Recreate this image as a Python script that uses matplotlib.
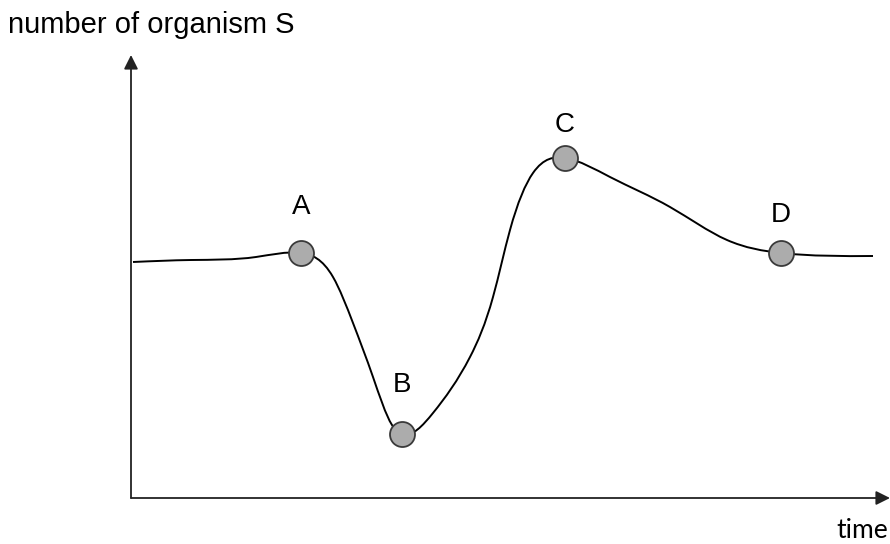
"""
plot.py
Sketch of a population curve for organism S over time, with four
marked stages A-D (steady, crash, overshoot, back to steady).
"""

import numpy as np
import matplotlib
matplotlib.use("Agg")
import matplotlib.pyplot as plt
from matplotlib.path import Path
from matplotlib.patches import PathPatch

# curve (arbitrary units: time, number of organism S)
time = [0.2, 6.0, 12.5, 17.0, 20.2, 22.2, 24.2, 26.1, 27.1, 30.2, 33.9, 36.2,
        37.9, 40.2, 43.4, 47.9, 53.9, 59.6, 65.0, 74.2]
count = [23.6, 23.8, 24.1, 24.5, 22.1, 17.5, 12.1, 7.3, 6.4, 8.5, 14.1, 20.1,
         26.8, 32.5, 34.0, 32.1, 29.1, 25.8, 24.5, 24.2]

# marked stages
stage_labels = ["A", "B", "C", "D"]
stage_time = [17.0, 27.1, 43.4, 65.0]
stage_count = [24.5, 6.4, 34.0, 24.5]

X_MAX = 75.9
Y_MAX = 44.3
LABEL_FONT = ["Liberation Sans", "DejaVu Sans"]


def smooth_path(xs, ys):
    """Natural cubic spline through the read points, handed to matplotlib
    as cubic Bezier segments so the drawing itself stays a single Path."""
    x = np.asarray(xs, float)
    y = np.asarray(ys, float)
    n = len(x)
    h = np.diff(x)
    d = np.diff(y) / h
    # second derivatives, natural ends (M0 = Mn = 0)
    A = np.zeros((n, n))
    rhs = np.zeros(n)
    A[0, 0] = A[-1, -1] = 1
    for i in range(1, n - 1):
        A[i, i - 1] = h[i - 1]
        A[i, i] = 2 * (h[i - 1] + h[i])
        A[i, i + 1] = h[i]
        rhs[i] = 6 * (d[i] - d[i - 1])
    M = np.linalg.solve(A, rhs)

    verts = [(x[0], y[0])]
    codes = [Path.MOVETO]
    for i in range(n - 1):
        m0 = d[i] - h[i] * (2 * M[i] + M[i + 1]) / 6
        m1 = d[i] + h[i] * (M[i] + 2 * M[i + 1]) / 6
        verts += [(x[i] + h[i] / 3, y[i] + m0 * h[i] / 3),
                  (x[i + 1] - h[i] / 3, y[i + 1] - m1 * h[i] / 3),
                  (x[i + 1], y[i + 1])]
        codes += [Path.CURVE4] * 3
    return Path(verts, codes)


fig = plt.figure(figsize=(8.9, 5.44), dpi=100)
ax = fig.add_axes([131 / 890, 46 / 544, 759 / 890, 443 / 544])
ax.set_xlim(0, X_MAX)
ax.set_ylim(0, Y_MAX)
ax.axis("off")

# axes with arrow heads
arrow = dict(arrowstyle="-|>,head_length=0.6,head_width=0.3", color="#222222",
             lw=1.3, shrinkA=0, shrinkB=0, mutation_scale=14)
ax.annotate("", xy=(0, Y_MAX), xytext=(0, 0), arrowprops=arrow, annotation_clip=False)
ax.annotate("", xy=(X_MAX, 0), xytext=(0, 0), arrowprops=arrow, annotation_clip=False)

ax.add_patch(PathPatch(smooth_path(time, count), facecolor="none",
                       edgecolor="black", lw=1.4, clip_on=False))

ax.plot(stage_time, stage_count, "o", ms=18, mfc="#acacac", mec="#3a3a3a",
        mew=1.3, zorder=5, clip_on=False)

label_offset = {"A": 33, "B": 35, "C": 24, "D": 27}  # points above the marker
for lab, t, c in zip(stage_labels, stage_time, stage_count):
    ax.annotate(lab, (t, c), xytext=(0, label_offset[lab]), textcoords="offset points",
                ha="center", va="center", fontsize=20, family=LABEL_FONT)

fig.text(8 / 890, 1 - 33 / 544, "number of organism S", ha="left", va="baseline",
         fontsize=21, family=LABEL_FONT)
fig.text(836 / 890, 1 - 538 / 544, "time", ha="left", va="baseline",
         fontsize=19, family=["Lato", "DejaVu Sans"])

fig.savefig("out.png", dpi=100)
